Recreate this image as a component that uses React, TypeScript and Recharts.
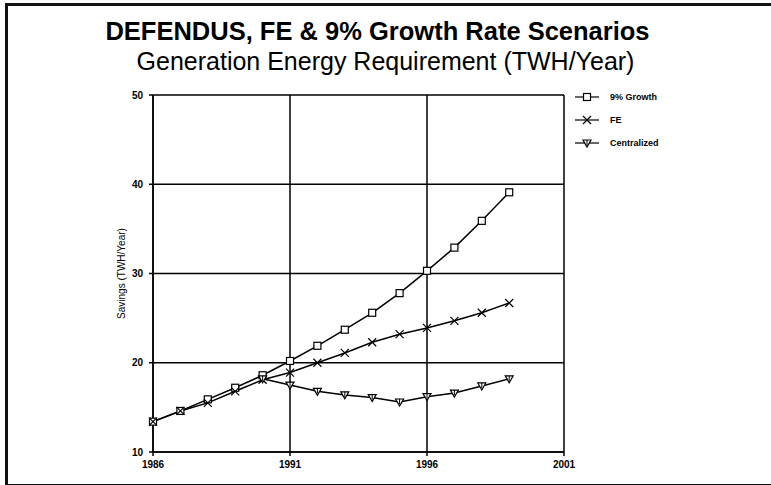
import React from "react";
import { LineChart, Line, XAxis, YAxis, CartesianGrid } from "recharts";

const years = [1986, 1987, 1988, 1989, 1990, 1991, 1992, 1993, 1994, 1995, 1996, 1997, 1998, 1999];
const growth = [13.4, 14.6, 15.9, 17.2, 18.6, 20.2, 21.9, 23.7, 25.6, 27.8, 30.3, 32.9, 35.9, 39.1];
const fe = [13.4, 14.6, 15.5, 16.8, 18.1, 18.9, 20.0, 21.1, 22.3, 23.2, 23.9, 24.7, 25.6, 26.7];
const centralized = [null, null, null, null, 18.2, 17.5, 16.8, 16.4, 16.1, 15.6, 16.2, 16.6, 17.4, 18.2];

const xTicks = [1986, 1991, 1996, 2001];
const yTicks = [10, 20, 30, 40, 50];
const legendNames = ["9% Growth", "FE", "Centralized"];

const data = years.map((year, i) => ({
  year,
  growth: growth[i],
  fe: fe[i],
  centralized: centralized[i],
}));

const FONT = "'Liberation Sans', Arial, sans-serif";

// marker glyphs
const Square = ({ cx, cy }: any) =>
  cx == null || cy == null ? null : (
    <rect x={cx - 3.5} y={cy - 3.5} width={7} height={7} fill="#fff" stroke="#000" strokeWidth={1.2} />
  );

const Cross = ({ cx, cy }: any) =>
  cx == null || cy == null ? null : (
    <path d={`M${cx - 4},${cy - 4}L${cx + 4},${cy + 4}M${cx - 4},${cy + 4}L${cx + 4},${cy - 4}`} stroke="#000" strokeWidth={1.2} />
  );

const Tri = ({ cx, cy }: any) =>
  cx == null || cy == null ? null : (
    <g>
      <path d={`M${cx - 4},${cy - 3}L${cx + 4},${cy - 3}L${cx},${cy + 4}Z`} fill="#fff" stroke="#000" strokeWidth={1.2} />
      <path d={`M${cx},${cy - 3}L${cx},${cy + 2}`} stroke="#000" strokeWidth={1} />
    </g>
  );

const markers = [Square, Cross, Tri];

const YLabel = ({ viewBox }: any) => {
  const x = viewBox.x + 8;
  const y = viewBox.y + viewBox.height / 2;
  return (
    <text x={x} y={y} transform={`rotate(-90 ${x} ${y})`} textAnchor="middle" dominantBaseline="central" fontSize={10} fontFamily={FONT} fill="#000">
      Savings (TWH/Year)
    </text>
  );
};

const LegendBox = () => (
  <svg width={120} height={70}>
    {legendNames.map((name, i) => {
      const y = 9 + i * 23;
      const M = markers[i];
      return (
        <g key={name}>
          <line x1={5} x2={29} y1={y} y2={y} stroke="#000" strokeWidth={1.2} />
          <M cx={17} cy={y} />
          <text x={40} y={y + 3} fontSize={9} fontWeight={600} fontFamily={FONT} fill="#000">
            {name}
          </text>
        </g>
      );
    })}
  </svg>
);

export default function App() {
  return (
    <div style={{ position: "fixed", left: 0, top: 0, width: 771, height: 485, background: "#fff" }}>
      <div style={{ position: "absolute", left: 5, top: 3, width: 766, height: 478, borderTop: "3px solid #111", borderLeft: "3px solid #111", borderBottom: "3px solid #111" }} />
      <div style={{ position: "absolute", left: -8, width: 771, top: 17, textAlign: "center", fontFamily: FONT, fontWeight: 700, fontSize: 25.5, color: "#000" }}>
        DEFENDUS, FE &amp; 9% Growth Rate Scenarios
      </div>
      <div style={{ position: "absolute", left: 0, width: 771, top: 47, textAlign: "center", fontFamily: FONT, fontSize: 25, color: "#000" }}>
        Generation Energy Requirement (TWH/Year)
      </div>
      <div style={{ position: "absolute", left: 0, top: 0 }}>
        <LineChart width={771} height={485} data={data} margin={{ top: 95, right: 207, bottom: 13, left: 113 }}>
          <CartesianGrid stroke="#000" strokeWidth={1.5} horizontalValues={yTicks} verticalValues={xTicks} />
          <XAxis
            dataKey="year"
            type="number"
            domain={[1986, 2001]}
            ticks={xTicks}
            height={20}
            stroke="#000"
            strokeWidth={1.5}
            tickSize={4}
            tickMargin={5}
            tick={{ fontSize: 10, fontWeight: 600, fontFamily: FONT, fill: "#000" }}
          />
          <YAxis
            type="number"
            domain={[10, 50]}
            ticks={yTicks}
            width={40}
            stroke="#000"
            strokeWidth={1.5}
            tickSize={4}
            tickMargin={6}
            tick={{ fontSize: 10, fontWeight: 600, fontFamily: FONT, fill: "#000" }}
            label={<YLabel />}
          />
          <Line dataKey="growth" stroke="#000" strokeWidth={1.5} dot={<Square />} isAnimationActive={false} />
          <Line dataKey="fe" stroke="#000" strokeWidth={1.5} dot={<Cross />} isAnimationActive={false} />
          <Line dataKey="centralized" stroke="#000" strokeWidth={1.5} dot={<Tri />} isAnimationActive={false} />
        </LineChart>
      </div>
      <div style={{ position: "absolute", left: 570, top: 88 }}>
        <LegendBox />
      </div>
    </div>
  );
}
